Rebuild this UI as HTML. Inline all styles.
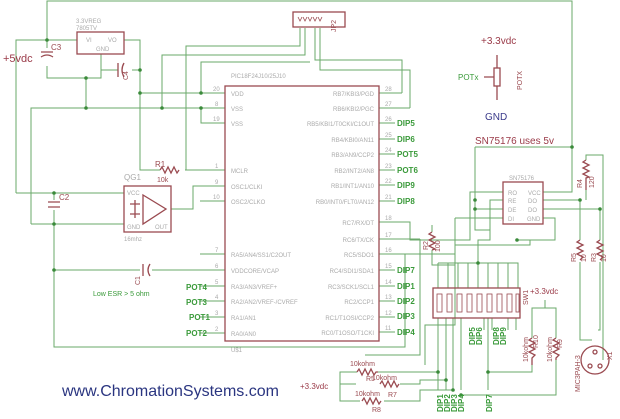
<!DOCTYPE html>
<html><head><meta charset="utf-8"><style>
html,body{margin:0;padding:0;background:#fff;}
svg{display:block;}
text{font-family:"Liberation Sans",sans-serif;}
.w{stroke:#6aa86a;stroke-width:1;fill:none;}
.c{stroke:#9a4a50;stroke-width:1.3;fill:none;}
.p{fill:#aaa;font-size:6px;}
.g{fill:#3a9a3a;font-size:8px;font-weight:bold;}
.m{fill:#9a4a50;font-size:7px;}
</style></head><body>
<svg width="620" height="419" viewBox="0 0 620 419" xmlns="http://www.w3.org/2000/svg">
<rect width="620" height="419" fill="#fff"/>
<g class="w">
<polyline points="47,40 47,1 572,1 572,147"/>
<polyline points="16,193 16,40 77,40"/>
<polyline points="47,40 47,48"/><polyline points="47,66 47,78 101,78 101,54"/>
<polyline points="86,78 86,108"/>
<polyline points="124,40 140,40 140,170 160,170"/>
<polyline points="101,70 118,70"/><polyline points="132,70 140,70"/>
<polyline points="140,93 225,93"/>
<polyline points="31,224 31,108 225,108"/>
<polyline points="201,93 201,62 310,62"/>
<polyline points="201,108 201,123 225,123"/>
<polyline points="162,108 162,55 305,55 305,28"/>
<polyline points="185,170 225,170"/>
<polyline points="186,170 186,46 300,46 300,28"/>
<polyline points="16,193 124,193"/>
<polyline points="31,224 124,224"/>
<polyline points="54,193 54,200"/><polyline points="54,210 54,347 405,347 405,254"/>
<polyline points="54,270 140,270"/><polyline points="152,270 225,270"/>
<polyline points="171,209 193,209 193,186 225,186"/>
<polyline points="200,201 225,201"/><polyline points="200,254 225,254"/>
<polyline points="200,286 225,286"/><polyline points="200,301 225,301"/><polyline points="200,317 225,317"/><polyline points="200,333 225,333"/>
<polyline points="315,28 315,60 402,60 402,93"/>
<polyline points="320,28 320,70 410,70 410,108"/>
<polyline points="379,93 402,93"/><polyline points="379,108 410,108"/>
<polyline points="379,123 395,123"/><polyline points="379,139 395,139"/><polyline points="379,154 395,154"/><polyline points="379,170 395,170"/><polyline points="379,185 395,185"/><polyline points="379,201 395,201"/>
<polyline points="379,222 410,222 410,240 470,240 470,192 503,192"/>
<polyline points="379,239 420,239"/>
<polyline points="379,254 455,254 455,245 530,245 530,240"/>
<polyline points="379,270 395,270"/><polyline points="379,286 395,286"/><polyline points="379,301 395,301"/><polyline points="379,317 395,317"/><polyline points="379,332 395,332"/>
<polyline points="432,225 432,232"/><polyline points="432,250 432,265 455,265"/>
<polyline points="475,147 572,147 572,192 543,192"/>
<polyline points="475,147 475,230 490,230 490,200 503,200"/>
<polyline points="475,209 503,209"/>
<polyline points="455,218 503,218"/><polyline points="455,218 455,325 425,325 425,365"/>
<polyline points="543,200 580,200 580,240"/>
<polyline points="543,209 600,209 600,240"/>
<polyline points="543,218 555,218 555,240 517,240"/>
<polyline points="586,160 586,155 603,155 603,360"/>
<polyline points="586,190 586,200"/>
<polyline points="580,262 580,340 592,340"/>
<polyline points="600,262 600,330 598,330"/>
<polyline points="490,230 490,240 478,240 478,263 518,263 518,288"/>
<polyline points="438,263 438,288"/><polyline points="448,263 448,288"/><polyline points="458,263 458,288"/><polyline points="468,263 468,288"/><polyline points="478,263 478,288"/><polyline points="488,263 488,288"/><polyline points="498,263 498,288"/><polyline points="508,263 508,288"/><polyline points="438,263 518,263"/>
<polyline points="438,318 438,390"/><polyline points="446,318 446,390"/><polyline points="453,318 453,390"/><polyline points="461,318 461,390"/>
<polyline points="484,318 484,330"/><polyline points="492,318 492,330"/><polyline points="508,318 508,330"/><polyline points="516,318 516,330"/>
<polyline points="488,318 488,372 532,372 532,365"/><polyline points="488,372 488,390"/>
<polyline points="532,338 532,308 556,308 556,338"/><polyline points="545,308 545,300"/>
<polyline points="556,360 556,395 461,395"/>
<polyline points="340,384 356,384"/>
<polyline points="340,384 340,372 357,372"/><polyline points="340,384 340,401 360,401"/>
<polyline points="378,372 438,372"/><polyline points="400,384 420,384 420,380 446,380"/><polyline points="384,401 420,401 420,390 453,390"/>
<polyline points="420,239 420,355 365,355"/>
</g>
<g fill="#3a8a3a">
<circle cx="47" cy="40" r="1.8"/><circle cx="86" cy="78" r="1.8"/><circle cx="140" cy="70" r="1.8"/><circle cx="140" cy="93" r="1.8"/><circle cx="86" cy="108" r="1.8"/><circle cx="162" cy="108" r="1.8"/><circle cx="201" cy="93" r="1.8"/><circle cx="201" cy="108" r="1.8"/><circle cx="54" cy="193" r="1.8"/><circle cx="54" cy="224" r="1.8"/><circle cx="54" cy="270" r="1.8"/><circle cx="572" cy="147" r="1.8"/><circle cx="475" cy="200" r="1.8"/><circle cx="475" cy="209" r="1.8"/><circle cx="580" cy="200" r="1.8"/><circle cx="600" cy="209" r="1.8"/><circle cx="517" cy="240" r="1.8"/><circle cx="478" cy="263" r="1.8"/><circle cx="438" cy="372" r="1.8"/><circle cx="446" cy="380" r="1.8"/><circle cx="453" cy="390" r="1.8"/><circle cx="488" cy="372" r="1.8"/><circle cx="461" cy="395" r="1.8"/>
</g>
<g class="c">
<rect x="225" y="86" width="154" height="255"/>
<rect x="77" y="32" width="47" height="22"/>
<rect x="293" y="12" width="52" height="15"/>
<rect x="124" y="186" width="47" height="46"/>
<polygon points="143,195 143,224 166,209"/>
<rect x="503" y="182" width="40" height="42"/>
<rect x="433" y="288" width="87" height="30"/>
<path d="M41,52 L53,52 M41,57 Q47,53 53,57"/>
<path d="M118,63 L118,77 M124,63 Q120,70 124,77"/>
<path d="M48,202 L60,202 M48,207 L60,207"/>
<path d="M143,264 L143,276 M150,264 Q146,270 150,276"/>
<path d="M160,170 l2,-3 l3,6 l3,-6 l3,6 l3,-6 l3,6 l2,-3"/>
<path d="M432,232 l-3,2 l6,3 l-6,3 l6,3 l-6,3 l6,3 l-3,1"/>
<path d="M586,160 l-3,2 l6,3 l-6,3 l6,3 l-6,3 l6,3 l-3,1 L586,190"/>
<path d="M580,240 l-3,2 l6,3 l-6,3 l6,3 l-6,3 l6,3 l-3,3"/>
<path d="M600,240 l-3,2 l6,3 l-6,3 l6,3 l-6,3 l6,3 l-3,3"/>
<path d="M532,338 l-3,2 l6,3 l-6,3 l6,3 l-6,3 l6,3 l-3,3 L532,365"/>
<path d="M556,338 l-3,2 l6,3 l-6,3 l6,3 l-6,3 l6,3 l-3,3 L556,360"/>
<path d="M357,372 l2,-3 l3,6 l3,-6 l3,6 l3,-6 l3,6 l2,-3 L378,372"/>
<path d="M380,384 l2,-3 l3,6 l3,-6 l3,6 l3,-6 l3,6 l2,-3"/>
<path d="M362,401 l2,-3 l3,6 l3,-6 l3,6 l3,-6 l3,6 l2,-3"/>
<rect x="494" y="68" width="6" height="18"/>
<circle cx="595" cy="360" r="14"/>
<circle cx="590" cy="366" r="2"/><circle cx="600" cy="366" r="2"/><circle cx="595" cy="352" r="2"/>
<path d="M497,55 L497,68 M497,86 L497,100 M484,77 L494,77"/>
<path d="M135,200 L135,218 M130,204 L140,204 M130,214 L140,214"/>
</g>
<g fill="none" stroke="#9a4a50" stroke-width="0.8">
<rect x="437" y="294" width="5" height="18"/><rect x="447" y="294" width="5" height="18"/><rect x="457" y="294" width="5" height="18"/><rect x="467" y="294" width="5" height="18"/><rect x="477" y="294" width="5" height="18"/><rect x="487" y="294" width="5" height="18"/><rect x="497" y="294" width="5" height="18"/><rect x="507" y="294" width="5" height="18"/><rect x="516" y="294" width="3" height="18"/>
<path d="M298,17 l2,4 l2,-4 M303,17 l2,4 l2,-4 M308,17 l2,4 l2,-4 M313,17 l2,4 l2,-4 M318,17 l2,4 l2,-4"/>
</g>
<g class="p">
<text x="231" y="78">PIC18F24J10/25J10</text>
<text x="231" y="96">VDD</text><text x="231" y="111">VSS</text><text x="231" y="126">VSS</text>
<text x="231" y="173">MCLR</text><text x="231" y="189">OSC1/CLKI</text><text x="231" y="204">OSC2/CLKO</text>
<text x="231" y="257">RA5/AN4/SS1/C2OUT</text><text x="231" y="273">VDDCORE/VCAP</text><text x="231" y="289">RA3/AN3/VREF+</text><text x="231" y="304">RA2/AN2/VREF-/CVREF</text><text x="231" y="320">RA1/AN1</text><text x="231" y="336">RA0/AN0</text>
<text x="231" y="352">U$1</text>
<g text-anchor="end">
<text x="374" y="96">RB7/KBI3/PGD</text><text x="374" y="111">RB6/KBI2/PGC</text><text x="374" y="126">RB5/KBI1/T0CKI/C1OUT</text><text x="374" y="142">RB4/KBI0/AN11</text><text x="374" y="157">RB3/AN9/CCP2</text><text x="374" y="173">RB2/INT2/AN8</text><text x="374" y="188">RB1/INT1/AN10</text><text x="374" y="204">RB0/INT0/FLT0/AN12</text>
<text x="374" y="225">RC7/RX/DT</text><text x="374" y="242">RC6/TX/CK</text><text x="374" y="257">RC5/SDO1</text><text x="374" y="273">RC4/SDI1/SDA1</text><text x="374" y="289">RC3/SCK1/SCL1</text><text x="374" y="304">RC2/CCP1</text><text x="374" y="320">RC1/T1OSI/CCP2</text><text x="374" y="335">RC0/T1OSO/T1CKI</text>
</g>
<text x="213" y="91">20</text><text x="215" y="106">8</text><text x="213" y="121">19</text><text x="215" y="168">1</text><text x="215" y="184">9</text><text x="213" y="199">10</text><text x="215" y="252">7</text><text x="215" y="268">6</text><text x="215" y="284">5</text><text x="215" y="299">4</text><text x="215" y="315">3</text><text x="215" y="331">2</text>
<text x="385" y="91">28</text><text x="385" y="106">27</text><text x="385" y="121">26</text><text x="385" y="137">25</text><text x="385" y="152">24</text><text x="385" y="168">23</text><text x="385" y="183">22</text><text x="385" y="199">21</text><text x="385" y="220">18</text><text x="385" y="237">17</text><text x="385" y="252">16</text><text x="385" y="268">15</text><text x="385" y="284">14</text><text x="385" y="299">13</text><text x="385" y="315">12</text><text x="385" y="330">11</text>
<text x="86" y="42">VI</text><text x="108" y="42">VO</text><text x="96" y="51">GND</text>
<text x="76" y="23">3.3VREG</text><text x="76" y="30">7805TV</text>
<text x="127" y="195">VCC</text><text x="127" y="229">GND</text><text x="155" y="229">OUT</text>
<text x="124" y="180" font-size="8">QG1</text><text x="124" y="241">16mhz</text>
<text x="508" y="195">RO</text><text x="508" y="203">RE</text><text x="508" y="212">DE</text><text x="508" y="221">DI</text>
<text x="528" y="195">VCC</text><text x="528" y="203">DO</text><text x="528" y="212">DO</text><text x="527" y="221">GND</text>
<text x="509" y="180">SN75176</text>
</g>
<g class="m">
<text x="155" y="167" font-size="8">R1</text><text x="157" y="182">10k</text>
<text x="59" y="200" font-size="8">C2</text><text x="51" y="50" font-size="8">C3</text>
<text x="93" y="296" fill="#3a9a3a">Low ESR &gt; 5 ohm</text>
<text x="350" y="366">10kohm</text><text x="366" y="381">R5</text>
<text x="372" y="380">10kohm</text><text x="388" y="397">R7</text>
<text x="355" y="396">10kohm</text><text x="372" y="412">R8</text>
</g>
<text x="3" y="62" fill="#9a3a48" font-size="11">+5vdc</text>
<text x="481" y="44" fill="#9a3a48" font-size="10">+3.3vdc</text>
<text x="485" y="120" fill="#3a3a8a" font-size="10">GND</text>
<text x="475" y="144" fill="#9a3a48" font-size="10">SN75176 uses 5v</text>
<text x="530" y="294" fill="#9a3a48" font-size="8">+3.3vdc</text>
<text x="300" y="389" fill="#9a3a48" font-size="8">+3.3vdc</text>
<text x="458" y="80" fill="#3a9a3a" font-size="8">POTx</text>
<g class="g">
<text x="397" y="126">DIP5</text><text x="397" y="142">DIP6</text><text x="397" y="157">POT5</text><text x="397" y="173">POT6</text><text x="397" y="188">DIP9</text><text x="397" y="204">DIP8</text>
<text x="397" y="273">DIP7</text><text x="397" y="289">DIP1</text><text x="397" y="304">DIP2</text><text x="397" y="319">DIP3</text><text x="397" y="335">DIP4</text>
<text x="186" y="290">POT4</text><text x="186" y="305">POT3</text><text x="189" y="320">POT1</text><text x="186" y="336">POT2</text>
</g>
<g class="g" font-size="7">
<text transform="translate(443,412) rotate(-90)">DIP1</text><text transform="translate(450,412) rotate(-90)">DIP2</text><text transform="translate(457,412) rotate(-90)">DIP3</text><text transform="translate(464,412) rotate(-90)">DIP4</text><text transform="translate(492,412) rotate(-90)">DIP7</text>
<text transform="translate(475,345) rotate(-90)">DIP5</text><text transform="translate(482,345) rotate(-90)">DIP6</text><text transform="translate(499,345) rotate(-90)">DIP8</text><text transform="translate(506,345) rotate(-90)">DIP9</text>
</g>
<g class="m" font-size="6">
<text transform="translate(522,90) rotate(-90)">POTX</text>
<text transform="translate(336,32) rotate(-90)">JP2</text>
<text transform="translate(528,305) rotate(-90)">SW1</text>
<text transform="translate(428,250) rotate(-90)">R2</text><text transform="translate(440,252) rotate(-90)">100</text>
<text transform="translate(582,188) rotate(-90)">R4</text><text transform="translate(594,188) rotate(-90)">120</text>
<text transform="translate(576,262) rotate(-90)">R5</text><text transform="translate(586,262) rotate(-90)">10</text>
<text transform="translate(596,262) rotate(-90)">R3</text><text transform="translate(606,262) rotate(-90)">10</text>
<text transform="translate(528,362) rotate(-90)">10kohm</text><text transform="translate(538,348) rotate(-90)">R10</text>
<text transform="translate(552,362) rotate(-90)">10kohm</text><text transform="translate(562,348) rotate(-90)">R9</text>
<text transform="translate(580,392) rotate(-90)">MIC3PAH-3</text><text transform="translate(612,360) rotate(-90)">X1</text>
<text transform="translate(128,80) rotate(-90)">C4</text>
<text transform="translate(140,285) rotate(-90)">C1</text>
</g>
<text x="62" y="396" fill="#2a3580" font-size="16">www.ChromationSystems.com</text>
</svg>
</body></html>
